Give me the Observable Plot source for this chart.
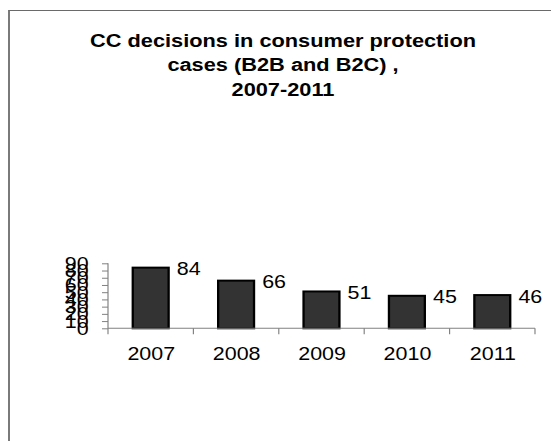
<!DOCTYPE html>
<html>
<head>
<meta charset="utf-8">
<script src="https://cdn.jsdelivr.net/npm/d3@7"></script>
<script src="https://cdn.jsdelivr.net/npm/@observablehq/plot@0.6"></script>
<style>
  body { margin: 0; background: #fff; width: 551px; height: 441px; overflow: hidden; position: relative;
         font-family: "Liberation Sans", Arial, sans-serif; }
  #frame { position: absolute; left: 8px; top: 10px; width: 600px; height: 500px;
           border-left: 2px solid #7a7a7a; border-top: 1px solid #6a6a6a; }
  #title { position: absolute; left: 33px; top: 28.7px; width: 500px; text-align: center;
           font-weight: bold; font-size: 18px; line-height: 24.5px; color: #000;
           transform: scaleX(1.21); transform-origin: 50% 0; }
  #chart { position: absolute; left: 0; top: 240px; transform: scaleX(1.16); transform-origin: 0 0; }
</style>
</head>
<body>
<div id="frame"></div>
<div id="title">CC decisions in consumer protection<br>cases (B2B and B2C) ,<br>2007-2011</div>
<div id="chart"></div>
<script>
// Number of Competition Council decisions per year
const years = ["2007", "2008", "2009", "2010", "2011"];
const decisions = [84, 66, 51, 45, 46];
const yTicks = [0, 10, 20, 30, 40, 50, 60, 70, 80, 90];

const rows = years.map((year, i) => ({year, value: decisions[i]}));
const fontSize = 18.5;

const chart = Plot.plot({
  width: 475,
  height: 130,
  marginLeft: 93.1,
  marginRight: 13.8,
  marginTop: 23.3,
  marginBottom: 41.7,
  style: {background: "transparent", fontFamily: "'Liberation Sans', Arial, sans-serif", fontSize: "18.5px", color: "#000", overflow: "visible"},
  x: {domain: years, paddingInner: 0.58, paddingOuter: 0.29, round: false},
  y: {domain: [0, 90]},
  marks: [
    Plot.barY(rows, {x: "year", y: "value", fill: "#333333", stroke: "#000", strokeWidth: 2}),
    Plot.text(rows, {x: "year", y: "value", text: d => String(d.value), textAnchor: "start",
                     lineAnchor: "middle", dx: 22, dy: 1, fill: "#000", fontSize}),
    Plot.axisX({tickSize: 0, tickPadding: 18, label: null, fill: "#000", fontSize}),
    Plot.axisY({ticks: yTicks, tickSize: 5.2, tickPadding: 12, label: null, stroke: "#808080",
                fill: "#000", fontSize, tickFormat: d => String(d)})
  ]
});

// Axis lines and category-boundary ticks, placed with the plot's own scales
const xs = chart.scale("x");
const ys = chart.scale("y");
const [x0, x1] = xs.range;
const [yBottom, yTop] = ys.range;
const step = xs.step ?? (x1 - x0) / years.length;
const svg = d3.select(chart);
const axes = svg.append("g").attr("stroke", "#808080").attr("stroke-width", 1).attr("fill", "none");
axes.append("line").attr("x1", x0).attr("x2", x0).attr("y1", yTop).attr("y2", yBottom);
axes.append("line").attr("x1", x0).attr("x2", x1).attr("y1", yBottom).attr("y2", yBottom);
for (let i = 0; i <= years.length; ++i) {
  const xi = x0 + i * step;
  axes.append("line").attr("x1", xi).attr("x2", xi).attr("y1", yBottom).attr("y2", yBottom + 6);
}

document.getElementById("chart").appendChild(chart);
</script>
</body>
</html>
